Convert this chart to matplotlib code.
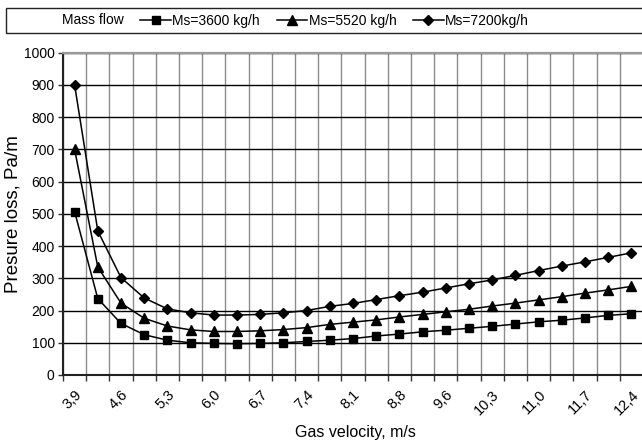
"""Pressure loss vs gas velocity for three mass flows."""

import numpy as np
import matplotlib
matplotlib.use('Agg')
import matplotlib.pyplot as plt
from matplotlib.lines import Line2D
from matplotlib.patches import Rectangle

# gas velocity categories (m/s), only every other one is labelled
velocity = ['3,9', '4,2', '4,6', '4,9', '5,3', '5,6', '6,0', '6,4', '6,7',
            '7,1', '7,4', '7,8', '8,1', '8,5', '8,8', '9,2', '9,6', '9,9',
            '10,3', '10,6', '11,0', '11,3', '11,7', '12,0', '12,4']

# pressure loss, Pa/m
ms3600 = [507, 237, 160, 125, 108, 100, 98, 97, 98, 100, 104, 108, 113,
          121, 127, 134, 139, 145, 151, 158, 165, 170, 177, 185, 190]
ms5520 = [700, 335, 223, 176, 152, 140, 135, 135, 137, 141, 147, 157, 164,
          171, 180, 188, 196, 204, 214, 223, 233, 243, 254, 264, 275]
ms7200 = [900, 447, 302, 239, 205, 193, 186, 186, 188, 193, 200, 213, 222,
          234, 246, 257, 270, 283, 295, 309, 324, 338, 351, 365, 379]

series = [(ms3600, 's', 6, 'Ms=3600 kg/h'),
          (ms5520, '^', 7, 'Ms=5520 kg/h'),
          (ms7200, 'D', 5.5, 'Ms=7200kg/h')]

plt.rcParams['font.family'] = ['Liberation Sans', 'DejaVu Sans']


def main():
    fig = plt.figure(figsize=(6.42, 4.42), dpi=100)
    ax = fig.add_axes([63 / 642, 1 - 375 / 442, 580 / 642, 322.3 / 442])

    x = np.arange(len(velocity))
    handles = [Line2D([], [], linestyle='none', marker='none')]
    labels = ['Mass flow']
    for values, marker, size, label in series:
        line, = ax.plot(x, values, color='black', lw=1.1, marker=marker,
                        markersize=size, markerfacecolor='black',
                        markeredgecolor='black', zorder=3)
        handles.append(line)
        labels.append(label)

    # axes limits and ticks
    ax.set_xlim(-0.5, len(velocity) - 0.5)
    ax.set_ylim(0, 1000)
    ax.set_yticks(np.arange(0, 1001, 100))
    ax.set_xticks(x[::2])
    ax.set_xticklabels(velocity[::2], rotation=45, ha='right', va='top',
                       rotation_mode='anchor')
    ax.set_xticks(np.arange(-0.5, len(velocity), 1), minor=True)
    ax.tick_params(axis='x', which='major', length=0, pad=9, labelsize=10.5)
    ax.tick_params(axis='x', which='minor', length=4.5, width=1,
                   direction='out', color='#333333')
    ax.tick_params(axis='y', length=3.5, width=1, pad=2.5, labelsize=10,
                   color='#333333')

    # grid
    ax.set_axisbelow(True)
    ax.grid(axis='y', which='major', color='black', lw=1)
    ax.grid(axis='x', which='minor', color='#8c8c8c', lw=1)

    for side in ['left', 'bottom']:
        ax.spines[side].set_color('#222222')
        ax.spines[side].set_linewidth(1.5)
    ax.spines['top'].set_color('#9a9a9a')
    ax.spines['top'].set_linewidth(1.6)
    ax.spines['right'].set_visible(False)

    ax.set_xlabel('Gas velocity, m/s', fontsize=11.5, va='center')
    ax.xaxis.set_label_coords(0.505, -0.177)
    ax.set_ylabel('Presure loss, Pa/m', fontsize=13.5)
    ax.yaxis.set_label_coords(-0.072, 0.5)

    # legend strip at the top
    fig.add_artist(Rectangle((6 / 642, 1 - 32.5 / 442), 1.0, 24 / 442,
                             transform=fig.transFigure, fill=False,
                             edgecolor='#222222', lw=1))
    fig.legend(handles, labels, ncol=4, loc='center left',
               bbox_to_anchor=(30 / 642, 1 - 20.5 / 442), frameon=False,
               fontsize=10, handlelength=2.2, handletextpad=0.1,
               columnspacing=1.2, borderpad=0, borderaxespad=0)

    fig.savefig('out.png', dpi=100)


if __name__ == '__main__':
    main()
